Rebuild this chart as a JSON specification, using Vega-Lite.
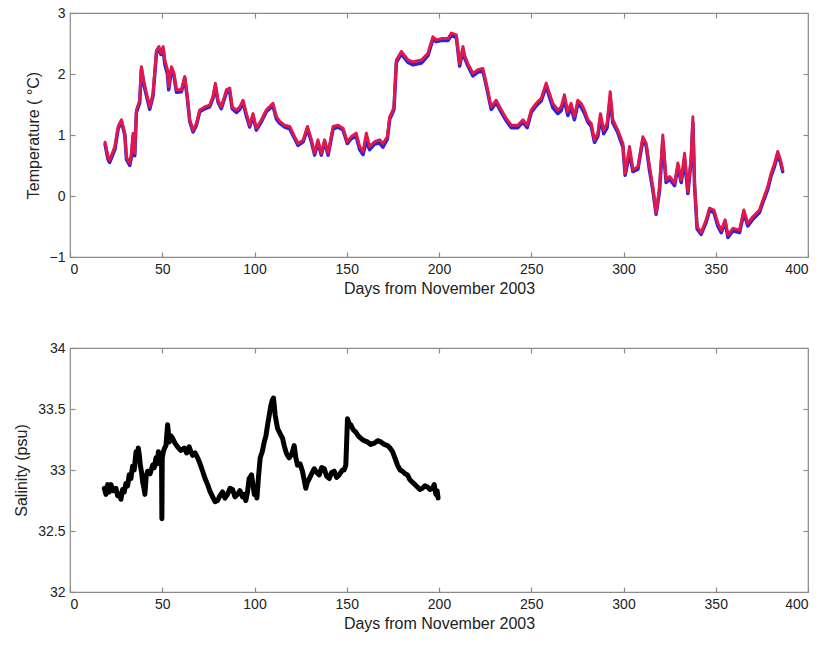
{
  "$schema": "https://vega.github.io/schema/vega-lite/v6.json",
  "padding": {"left": 13, "top": 5, "right": 10, "bottom": 4},
  "spacing": 43,
  "config": {
    "font": "Liberation Sans",
    "view": {"stroke": "#8a8a8a", "strokeWidth": 1.2},
    "axis": {
      "domain": false,
      "grid": false,
      "ticks": true,
      "tickColor": "#8a8a8a",
      "tickWidth": 1.2,
      "tickSize": -5,
      "labelPadding": 10,
      "labelColor": "#222222",
      "labelFontSize": 14,
      "titleColor": "#222222",
      "titleFontSize": 16,
      "titleFontWeight": "normal",
      "titlePadding": 8
    },
    "line": {"strokeJoin": "round", "strokeCap": "round"}
  },
  "datasets": {
    "temp": [
      {"d":19,"r":0.88,"b":0.85},{"d":20.6,"r":0.64,"b":0.60},{"d":21.5,"r":0.59,"b":0.55},{"d":24.3,"r":0.81,"b":0.76},
      {"d":26.1,"r":1.14,"b":1.10},{"d":27.9,"r":1.25,"b":1.22},{"d":29.7,"r":1.03,"b":1.00},{"d":30.6,"r":0.64,"b":0.60},
      {"d":32.4,"r":0.54,"b":0.50},{"d":33.3,"r":0.70,"b":0.64},{"d":34.2,"r":1.03,"b":0.98},{"d":35.1,"r":0.70,"b":0.66},
      {"d":36,"r":1.41,"b":1.37},{"d":37.8,"r":1.57,"b":1.53},{"d":38.7,"r":2.12,"b":2.08},{"d":40.2,"r":1.85,"b":1.80},
      {"d":41.5,"r":1.68,"b":1.64},{"d":43.2,"r":1.46,"b":1.42},{"d":45,"r":1.68,"b":1.64},{"d":46.9,"r":2.39,"b":2.36},
      {"d":48.2,"r":2.45,"b":2.40},{"d":49.3,"r":2.34,"b":2.32},{"d":50.5,"r":2.45,"b":2.40},{"d":51.4,"r":2.23,"b":2.16},
      {"d":52.8,"r":2.07,"b":2.00},{"d":53.5,"r":1.79,"b":1.74},{"d":55,"r":2.12,"b":2.08},{"d":56.4,"r":2.01,"b":1.96},
      {"d":57.7,"r":1.74,"b":1.70},{"d":60.4,"r":1.74,"b":1.71},{"d":62.2,"r":1.96,"b":1.93},{"d":63.6,"r":1.63,"b":1.60},
      {"d":64.9,"r":1.25,"b":1.22},{"d":66.7,"r":1.08,"b":1.05},{"d":68.5,"r":1.19,"b":1.16},{"d":70.3,"r":1.41,"b":1.38},
      {"d":73,"r":1.46,"b":1.43},{"d":75.7,"r":1.49,"b":1.46},{"d":77.5,"r":1.63,"b":1.60},{"d":78.8,"r":1.85,"b":1.80},
      {"d":80.2,"r":1.57,"b":1.54},{"d":82,"r":1.46,"b":1.43},{"d":84.8,"r":1.74,"b":1.70},{"d":86.6,"r":1.77,"b":1.70},
      {"d":87.9,"r":1.46,"b":1.43},{"d":90.2,"r":1.41,"b":1.37},{"d":92,"r":1.46,"b":1.42},{"d":93.8,"r":1.57,"b":1.53},
      {"d":95.6,"r":1.35,"b":1.31},{"d":97.4,"r":1.16,"b":1.13},{"d":99.2,"r":1.35,"b":1.31},{"d":101,"r":1.11,"b":1.08},
      {"d":103.8,"r":1.25,"b":1.22},{"d":106.4,"r":1.41,"b":1.38},{"d":110,"r":1.52,"b":1.48},{"d":111.9,"r":1.30,"b":1.26},
      {"d":113.7,"r":1.22,"b":1.19},{"d":116.4,"r":1.16,"b":1.13},{"d":119.1,"r":1.14,"b":1.10},{"d":121.8,"r":0.97,"b":0.94},
      {"d":123.6,"r":0.86,"b":0.83},{"d":126.4,"r":0.92,"b":0.89},{"d":128.7,"r":1.14,"b":1.10},{"d":130.9,"r":0.92,"b":0.88},
      {"d":132.6,"r":0.70,"b":0.67},{"d":134.4,"r":0.92,"b":0.88},{"d":136.2,"r":0.70,"b":0.67},{"d":138,"r":0.92,"b":0.89},
      {"d":139.9,"r":0.70,"b":0.67},{"d":142.6,"r":1.14,"b":1.10},{"d":145.3,"r":1.16,"b":1.13},{"d":148,"r":1.11,"b":1.08},
      {"d":150.3,"r":0.89,"b":0.86},{"d":152.4,"r":0.97,"b":0.94},{"d":155.1,"r":1.03,"b":0.98},{"d":157,"r":0.81,"b":0.76},
      {"d":158.8,"r":0.73,"b":0.68},{"d":160.6,"r":1.03,"b":0.90},{"d":162.4,"r":0.81,"b":0.76},{"d":165.1,"r":0.89,"b":0.85},
      {"d":167.8,"r":0.92,"b":0.87},{"d":169.6,"r":0.86,"b":0.80},{"d":172,"r":0.97,"b":0.93},{"d":173.3,"r":1.30,"b":1.26},
      {"d":174.2,"r":1.35,"b":1.32},{"d":175.6,"r":1.46,"b":1.42},{"d":176.9,"r":2.23,"b":2.19},{"d":179.6,"r":2.37,"b":2.33},
      {"d":183.2,"r":2.23,"b":2.19},{"d":186,"r":2.20,"b":2.15},{"d":190.5,"r":2.23,"b":2.18},{"d":194,"r":2.34,"b":2.30},
      {"d":196.7,"r":2.61,"b":2.57},{"d":198.5,"r":2.56,"b":2.53},{"d":201.2,"r":2.58,"b":2.55},{"d":204.9,"r":2.58,"b":2.55},
      {"d":206.7,"r":2.67,"b":2.63},{"d":209.4,"r":2.64,"b":2.60},{"d":211.2,"r":2.17,"b":2.13},{"d":213,"r":2.45,"b":2.40},
      {"d":213.9,"r":2.30,"b":2.26},{"d":215.7,"r":2.17,"b":2.13},{"d":218.4,"r":2.01,"b":1.97},{"d":221.1,"r":2.07,"b":2.03},
      {"d":223.8,"r":2.09,"b":2.05},{"d":225.6,"r":1.85,"b":1.81},{"d":228.3,"r":1.46,"b":1.42},{"d":231,"r":1.57,"b":1.53},
      {"d":233.8,"r":1.41,"b":1.37},{"d":236.5,"r":1.27,"b":1.23},{"d":239.2,"r":1.16,"b":1.12},{"d":242.8,"r":1.16,"b":1.12},
      {"d":245.5,"r":1.25,"b":1.21},{"d":247.8,"r":1.16,"b":1.12},{"d":250,"r":1.41,"b":1.37},{"d":252.7,"r":1.52,"b":1.48},
      {"d":255.4,"r":1.60,"b":1.56},{"d":258.1,"r":1.85,"b":1.80},{"d":259.9,"r":1.68,"b":1.62},{"d":261.7,"r":1.52,"b":1.45},
      {"d":264.4,"r":1.41,"b":1.35},{"d":266.2,"r":1.46,"b":1.40},{"d":268,"r":1.66,"b":1.58},{"d":269.8,"r":1.38,"b":1.32},
      {"d":271.6,"r":1.52,"b":1.45},{"d":273.4,"r":1.30,"b":1.25},{"d":275.2,"r":1.57,"b":1.50},{"d":277,"r":1.52,"b":1.46},
      {"d":278.8,"r":1.41,"b":1.36},{"d":280.7,"r":1.25,"b":1.21},{"d":282.5,"r":1.19,"b":1.14},{"d":284.3,"r":0.92,"b":0.88},
      {"d":286.1,"r":1.03,"b":0.98},{"d":287.5,"r":1.35,"b":1.28},{"d":289.3,"r":1.08,"b":1.02},{"d":291.1,"r":1.19,"b":1.12},
      {"d":292.8,"r":1.71,"b":1.60},{"d":294.2,"r":1.25,"b":1.20},{"d":296.9,"r":1.08,"b":1.04},{"d":299.7,"r":0.86,"b":0.80},
      {"d":300.9,"r":0.37,"b":0.34},{"d":303.3,"r":0.81,"b":0.70},{"d":305.1,"r":0.43,"b":0.40},{"d":307.8,"r":0.48,"b":0.44},
      {"d":310.5,"r":0.97,"b":0.92},{"d":312.3,"r":0.86,"b":0.82},{"d":314.1,"r":0.48,"b":0.42},{"d":315.9,"r":0.15,"b":0.10},
      {"d":317.7,"r":-0.28,"b":-0.30},{"d":319.5,"r":0.15,"b":0.08},{"d":321.3,"r":1.00,"b":0.90},{"d":323.1,"r":0.26,"b":0.22},
      {"d":325,"r":0.32,"b":0.28},{"d":327.7,"r":0.21,"b":0.17},{"d":329.5,"r":0.54,"b":0.48},{"d":331.3,"r":0.26,"b":0.22},
      {"d":333.1,"r":0.70,"b":0.60},{"d":334.9,"r":0.07,"b":0.04},{"d":336.7,"r":0.65,"b":0.60},{"d":337.6,"r":1.30,"b":1.20},
      {"d":338.5,"r":0.21,"b":0.18},{"d":339.9,"r":-0.50,"b":-0.54},{"d":342.1,"r":-0.60,"b":-0.63},{"d":344.8,"r":-0.39,"b":-0.43},
      {"d":346.6,"r":-0.20,"b":-0.24},{"d":349,"r":-0.23,"b":-0.27},{"d":351.2,"r":-0.45,"b":-0.50},{"d":353,"r":-0.56,"b":-0.60},
      {"d":355.1,"r":-0.39,"b":-0.43},{"d":356.6,"r":-0.64,"b":-0.68},{"d":359.3,"r":-0.53,"b":-0.57},{"d":362.9,"r":-0.56,"b":-0.60},
      {"d":365.2,"r":-0.23,"b":-0.28},{"d":367.4,"r":-0.45,"b":-0.49},{"d":370.1,"r":-0.34,"b":-0.38},{"d":373.7,"r":-0.23,"b":-0.27},
      {"d":375.5,"r":-0.07,"b":-0.11},{"d":378.2,"r":0.15,"b":0.11},{"d":380,"r":0.37,"b":0.33},{"d":381.9,"r":0.54,"b":0.49},
      {"d":383.6,"r":0.73,"b":0.68},{"d":385.1,"r":0.59,"b":0.55},{"d":386.3,"r":0.43,"b":0.40}
    ],
    "sal": [
      {"d":18.6,"s":32.85},{"d":19.5,"s":32.80},{"d":20.4,"s":32.88},{"d":21.3,"s":32.82},{"d":22.2,"s":32.88},{"d":23.5,"s":32.83},
      {"d":24.9,"s":32.85},{"d":25.8,"s":32.79},{"d":26.7,"s":32.80},{"d":27.6,"s":32.76},{"d":28.5,"s":32.84},{"d":29.4,"s":32.82},
      {"d":30.3,"s":32.89},{"d":31.2,"s":32.87},{"d":32.1,"s":32.96},{"d":33,"s":32.93},{"d":33.9,"s":33.03},{"d":34.8,"s":33.00},
      {"d":35.8,"s":33.15},{"d":36.4,"s":33.10},{"d":37,"s":33.18},{"d":37.6,"s":33.12},{"d":38.1,"s":33.04},{"d":38.8,"s":32.98},
      {"d":39.4,"s":32.90},{"d":40,"s":32.86},{"d":40.6,"s":32.80},{"d":41.3,"s":32.95},{"d":42.1,"s":32.99},{"d":43.4,"s":32.97},
      {"d":44.8,"s":33.04},{"d":45.7,"s":33.02},{"d":46.6,"s":33.10},{"d":47.3,"s":33.05},{"d":47.9,"s":33.15},{"d":48.9,"s":33.10},
      {"d":49.6,"s":33.12},{"d":49.8,"s":32.60},{"d":50.0,"s":33.10},{"d":50.6,"s":33.15},{"d":51.3,"s":33.18},{"d":52,"s":33.20},
      {"d":52.9,"s":33.37},{"d":53.8,"s":33.23},{"d":54.7,"s":33.28},{"d":55.6,"s":33.26},{"d":56.9,"s":33.22},{"d":58.3,"s":33.19},
      {"d":60,"s":33.16},{"d":61.9,"s":33.18},{"d":63.2,"s":33.14},{"d":64.6,"s":33.19},{"d":65.5,"s":33.15},{"d":66.5,"s":33.12},
      {"d":67.8,"s":33.14},{"d":69.2,"s":33.10},{"d":70.5,"s":33.05},{"d":71.9,"s":32.99},{"d":73.2,"s":32.93},{"d":74.6,"s":32.88},
      {"d":76,"s":32.82},{"d":77.3,"s":32.78},{"d":78.6,"s":32.74},{"d":80,"s":32.75},{"d":81.3,"s":32.79},{"d":82.7,"s":32.82},
      {"d":84,"s":32.77},{"d":85.4,"s":32.80},{"d":86.7,"s":32.85},{"d":88.1,"s":32.84},{"d":89.4,"s":32.78},{"d":90.8,"s":32.80},
      {"d":92.1,"s":32.83},{"d":93.5,"s":32.78},{"d":94.4,"s":32.80},{"d":95.3,"s":32.75},{"d":96.2,"s":32.82},{"d":97.1,"s":32.93},
      {"d":98.4,"s":32.96},{"d":99.9,"s":32.80},{"d":100.6,"s":32.84},{"d":101.3,"s":32.77},{"d":102.2,"s":32.95},{"d":103.1,"s":33.10},
      {"d":104.2,"s":33.15},{"d":105.3,"s":33.23},{"d":106.2,"s":33.28},{"d":107.1,"s":33.37},{"d":108,"s":33.45},{"d":108.9,"s":33.53},
      {"d":109.6,"s":33.57},{"d":110.3,"s":33.59},{"d":111.2,"s":33.45},{"d":112.5,"s":33.34},{"d":113.8,"s":33.30},{"d":115.2,"s":33.26},
      {"d":116.1,"s":33.20},{"d":117,"s":33.15},{"d":117.9,"s":33.12},{"d":118.8,"s":33.10},{"d":120.2,"s":33.13},{"d":121.5,"s":33.20},
      {"d":122.4,"s":33.10},{"d":123.3,"s":33.04},{"d":124.7,"s":33.05},{"d":126,"s":32.99},{"d":126.9,"s":32.92},{"d":127.8,"s":32.85},
      {"d":128.7,"s":32.90},{"d":129.7,"s":32.93},{"d":131,"s":32.97},{"d":132.4,"s":33.01},{"d":133.7,"s":32.98},{"d":135.1,"s":32.96},
      {"d":136.4,"s":33.02},{"d":137.8,"s":33.01},{"d":139.1,"s":32.95},{"d":140.5,"s":32.93},{"d":141.8,"s":32.98},{"d":143.2,"s":32.99},
      {"d":144.5,"s":32.94},{"d":145.9,"s":32.96},{"d":146.8,"s":32.98},{"d":147.7,"s":33.00},{"d":148.6,"s":33.00},{"d":149.5,"s":33.04},
      {"d":150.4,"s":33.42},{"d":151.3,"s":33.38},{"d":152.2,"s":33.37},{"d":153.5,"s":33.33},{"d":154.9,"s":33.31},{"d":156.2,"s":33.28},
      {"d":157.6,"s":33.26},{"d":159.4,"s":33.24},{"d":161.2,"s":33.23},{"d":163,"s":33.21},{"d":164.9,"s":33.22},{"d":166.7,"s":33.24},
      {"d":168.5,"s":33.23},{"d":170.3,"s":33.21},{"d":172.1,"s":33.20},{"d":173.5,"s":33.18},{"d":174.8,"s":33.15},{"d":176.1,"s":33.10},
      {"d":177.5,"s":33.04},{"d":178.9,"s":33.00},{"d":180.2,"s":32.99},{"d":181.6,"s":32.97},{"d":182.9,"s":32.96},{"d":184.2,"s":32.92},
      {"d":185.6,"s":32.90},{"d":187,"s":32.88},{"d":188.3,"s":32.86},{"d":189.6,"s":32.84},{"d":191,"s":32.85},{"d":192.4,"s":32.87},
      {"d":193.8,"s":32.86},{"d":195.1,"s":32.84},{"d":196.5,"s":32.85},{"d":197.4,"s":32.88},{"d":198.3,"s":32.80},{"d":199,"s":32.83},
      {"d":199.5,"s":32.77}
    ]
  },
  "vconcat": [
    {
      "width": 738,
      "height": 244,
      "data": {"name": "temp"},
      "layer": [
        {
          "mark": {"type": "line", "color": "#2b22dd", "strokeWidth": 3.5},
          "encoding": {
            "x": {"field": "d", "type": "quantitative", "scale": {"domain": [0, 400]},
                  "axis": {"orient": "top", "labels": false, "title": null, "values": [50, 100, 150, 200, 250, 300, 350]}},
            "y": {"field": "b", "type": "quantitative", "scale": {"domain": [-1, 3]},
                  "axis": {"orient": "right", "labels": false, "title": null, "values": [0, 1, 2]}}
          }
        },
        {
          "mark": {"type": "line", "color": "#e0184c", "strokeWidth": 3},
          "encoding": {
            "x": {"field": "d", "type": "quantitative", "scale": {"domain": [0, 400]},
                  "axis": {"title": "Days from November 2003", "values": [0, 50, 100, 150, 200, 250, 300, 350, 400], "titlePadding": 4}},
            "y": {"field": "r", "type": "quantitative", "scale": {"domain": [-1, 3]},
                  "axis": {"title": "Temperature ( °C)", "values": [-1, 0, 1, 2, 3], "format": "~g"}}
          }
        }
      ],
      "resolve": {"axis": {"x": "independent", "y": "independent"}}
    },
    {
      "width": 738,
      "height": 244,
      "data": {"name": "sal"},
      "layer": [
        {
          "mark": {"type": "line", "color": "#000000", "strokeWidth": 5},
          "encoding": {
            "x": {"field": "d", "type": "quantitative", "scale": {"domain": [0, 400]},
                  "axis": {"orient": "top", "labels": false, "title": null, "values": [50, 100, 150, 200, 250, 300, 350]}},
            "y": {"field": "s", "type": "quantitative", "scale": {"domain": [32, 34]},
                  "axis": {"orient": "right", "labels": false, "title": null, "values": [32.5, 33, 33.5]}}
          }
        },
        {
          "mark": {"type": "line", "color": "#000000", "strokeWidth": 4, "opacity": 0},
          "encoding": {
            "x": {"field": "d", "type": "quantitative", "scale": {"domain": [0, 400]},
                  "axis": {"title": "Days from November 2003", "values": [0, 50, 100, 150, 200, 250, 300, 350, 400], "titlePadding": 4}},
            "y": {"field": "s", "type": "quantitative", "scale": {"domain": [32, 34]},
                  "axis": {"title": "Salinity (psu)", "values": [32, 32.5, 33, 33.5, 34], "format": "~g"}}
          }
        }
      ],
      "resolve": {"axis": {"x": "independent", "y": "independent"}}
    }
  ]
}
